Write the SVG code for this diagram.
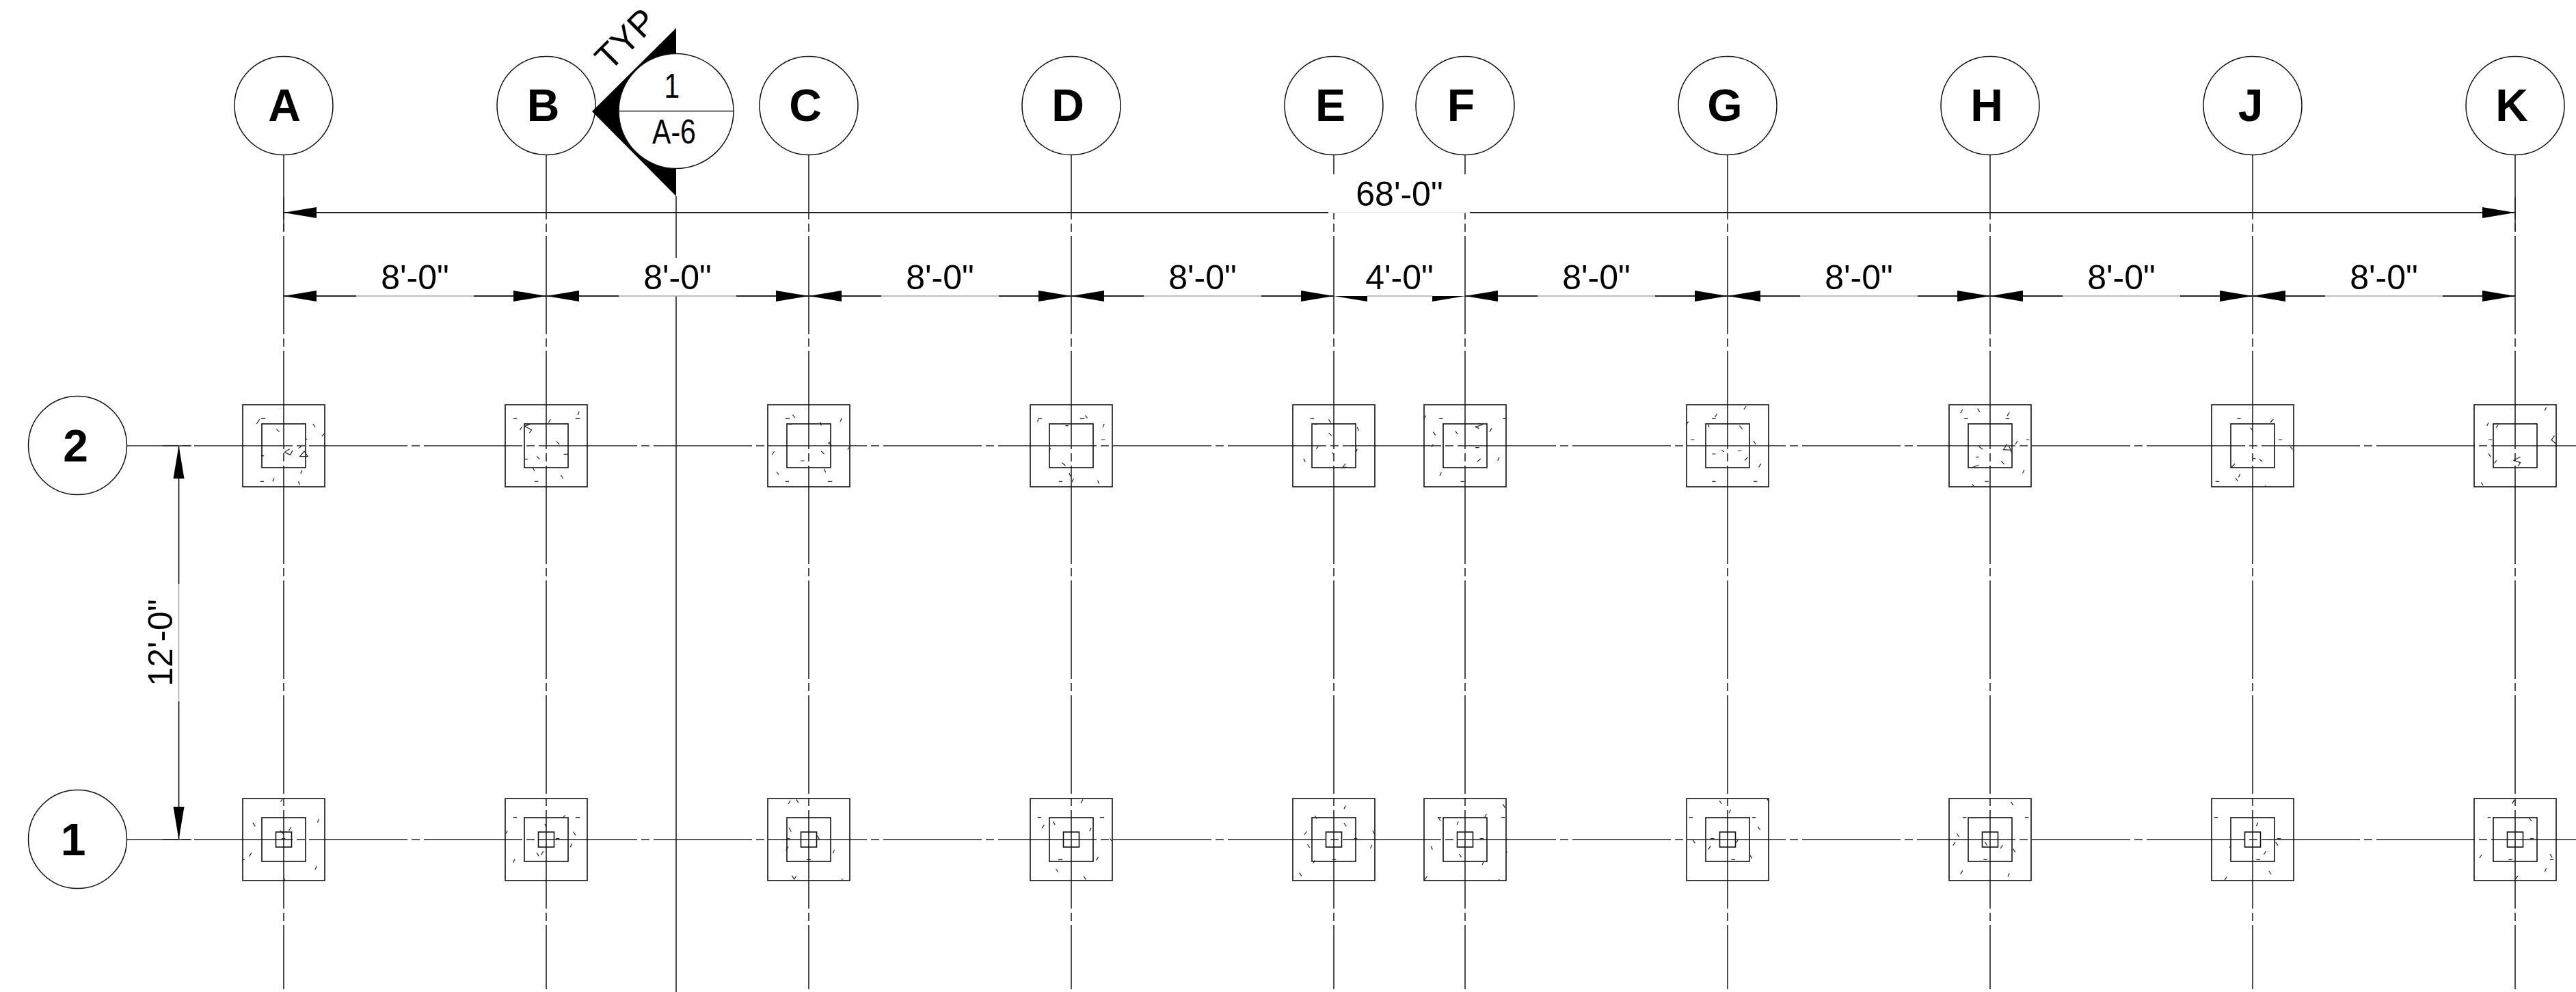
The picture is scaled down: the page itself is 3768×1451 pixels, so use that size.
<svg xmlns="http://www.w3.org/2000/svg" xmlns:xlink="http://www.w3.org/1999/xlink" width="3768" height="1451" viewBox="0 0 3768 1451">
<style>
text{font-family:"Liberation Sans",Arial,sans-serif;fill:#000}
.bub{font-size:66px;font-weight:700;text-anchor:middle}
.dim{font-size:50px;text-anchor:middle}
.c{fill:#fff;stroke:#111;stroke-width:1.5}
.grid{fill:none;stroke:#222;stroke-width:1.6;stroke-dasharray:144 6 12 6}
.solid{fill:none;stroke:#222;stroke-width:1.6}
.d{fill:none;stroke:#222;stroke-width:1.8}
.m{fill:none;stroke:#aaa;stroke-width:1.5}
.r{fill:none;stroke:#111;stroke-width:1.6}
.t{fill:none;stroke:#222;stroke-width:1.2;vector-effect:non-scaling-stroke}
</style>
<defs>
<marker id="ar" viewBox="0 -9 49 18" refX="48" refY="0" markerWidth="49" markerHeight="18" markerUnits="userSpaceOnUse" orient="auto-start-reverse"><path d="M0,-8L48,0L0,8z" fill="#000"/></marker>
<g id="f2"><rect class="r" x="-60" y="-60" width="120" height="120"/><rect class="r" x="-32" y="-32" width="64" height="64"/></g>
<g id="f1"><use xlink:href="#f2"/><rect class="r" x="-11.5" y="-11" width="23" height="22"/></g>
</defs>
<g id="gridlines">
<path class="grid" d="M116,652H3768M116,1228H3768"/>
<path class="grid" d="M415,177V1447M799,177V1447M1183,177V1447M1567,177V1447M2527,177V1447M2911,177V1447M3295,177V1447M3679,177V1447"/>
<path class="solid" d="M1951,177V255M2143,177V255"/>
<path class="grid" stroke-dashoffset="134" d="M1951,311V1447M2143,311V1447"/>
<path class="solid" d="M989,287V377M989,433V1451"/>
<path class="solid" d="M415,288V338M3679,288V338M238,652H280M238,1228H280"/>
</g>
<g id="footing-A2" transform="translate(415,652)"><use xlink:href="#f2"/><path class="t" transform="scale(1.0714,.3333)" d="M-31,-119h6M-37,-96l4,-20M40,-96l3,15M-10,-73l4,12M52,-41l3,-12M8,14l-7,14l8,12l3,-20M22,47h11l-5,-23zM24,3l-4,8M-31,44h4M25,107l-2,15M-32,157h5M-13,142l-2,15M20,157l2,15M30,-29h2"/></g>
<g id="footing-B2" transform="translate(799,652)"><use xlink:href="#f2"/><path class="t" transform="scale(1.0714,.3333)" d="M-45,-119h5M40,-119h6M45,-151l-2,16M6,-117l-3,16M-30,-86l10,16l-3,14M-30,-86l8,-8M-36,-69l3,-14M14,-19l4,13M24,37h6M-30,59h5M-13,46l4,13M-18,99l2,12M20,129l3,15M-16,157h5"/></g>
<g id="footing-C2" transform="translate(1183,652)"><use xlink:href="#f2"/><path class="t" transform="scale(1.0714,.3333)" d="M-32,-119h6M-22,-136l3,13M45,-121l-2,15M16,-104l1,16M-28,-94h5M56,4l-3,13M30,-18l-3,6l4,8M-47,24l-3,15M17,24l4,12M-11,66h5M-44,114l3,13M21,102l2,15M-32,157h5M26,157h6"/></g>
<g id="footing-D2" transform="translate(1567,652)"><use xlink:href="#f2"/><path class="t" transform="scale(1.0714,.3333)" d="M-45,-119h5M-45,-119l-1,14M12,-119h6M19,-133l3,12M45,-96l-2,15M-8,-88h4M41,-27h5M-28,11l-2,8M-13,74l5,13M-3,119l2,15M3,144l-2,15M-17,157h5M36,152l2,15"/></g>
<g id="footing-E2" transform="translate(1951,652)"><use xlink:href="#f2"/><path class="t" transform="scale(1.0714,.3333)" d="M-32,-119h5M-7,-116l3,15M32,-81l2,15M-27,-94h5M-7,-56l4,12M-21,2l-3,12M32,14l-2,15M-2,29l2,10M-41,56l2,15M16,79l-4,15l6,0"/></g>
<g id="footing-F2" transform="translate(2143,652)"><use xlink:href="#f2"/><path class="t" transform="scale(1.084,.3333)" d="M-53,-133l-2,14M-35,-119h5M51,-119h5M24,-93l-10,10l5,7M36,-77l-3,16M-13,-64l3,13M-43,-61l3,15M-43,-6l-2,12M14,8h5M21,57l-5,14M46,51l-2,15M-32,117l-2,15M-6,157h5"/></g>
<g id="footing-G2" transform="translate(2527,652)"><use xlink:href="#f2"/><path class="t" transform="scale(1.084,.3333)" d="M25,-174l-3,15M-14,-141l-3,15M-21,-119h5M-53,-106l-3,15M-26,-93l1,12M16,-88l4,15M-50,-27h5M35,-21l3,15M-21,36h5M-8,19l3,8M14,21h5M27,51l-4,14M45,79l-3,15M-21,157h5M35,157h5"/></g>
<g id="footing-H2" transform="translate(2911,652)"><use xlink:href="#f2"/><path class="t" transform="scale(1.084,.3333)" d="M-37,-159l-3,15M-17,-163l3,15M26,-146l-3,15M-35,-119h5M21,-119h5M49,-27h4M37,-21l-3,15M-15,4l5,12M23,-8l-5,25l10,2l-3,-20M28,19l1,13M-19,50h4M15,67l4,14M-15,84l-10,12M46,106l-2,15M-7,157h5M-24,169l3,12"/></g>
<g id="footing-J2" transform="translate(3295,652)"><use xlink:href="#f2"/><path class="t" transform="scale(1.084,.3333)" d="M28,-117l-4,15M-3,-79l3,12M-21,-119h5M35,-27h5M51,4l3,13M0,56h4M9,59l4,10M-24,79l-5,17M-17,124l-2,15M-23,141l3,15M-50,157h5M17,175l1,6"/></g>
<g id="footing-K2" transform="translate(3679,652)"><use xlink:href="#f2"/><path class="t" transform="scale(1.084,.3333)" d="M42,-169l-2,15M-36,-101l-2,13M-23,-91l-3,12M53,-44l-4,18l7,20M-36,-27h5M-36,34l3,15M-25,64l-3,13M7,49l-9,15l9,10l-3,16M-46,161l3,13"/></g>
<g id="footing-A1" transform="translate(415,1228)"><use xlink:href="#f1"/><path class="t" transform="scale(1.0714,.3333)" d="M-2,-179l-2,13M-42,-74l3,16M48,-89l-2,15M10,-54l-3,15M-5,-39l5,15M-3,-4h5M-44,58l-3,16M-56,88h3M45,116l-2,15M0,168l2,13"/></g>
<g id="footing-B1" transform="translate(799,1228)"><use xlink:href="#f1"/><path class="t" transform="scale(1.0714,.3333)" d="M-45,-97h5M40,-97h6M26,-107l-4,13M-2,-69l2,15M13,-4h5M37,-34l3,15M35,18l-2,16M-53,-39l-2,13M-4,51l-3,17M-13,58l3,15M-43,86l-2,15"/></g>
<g id="footing-C1" transform="translate(1183,1228)"><use xlink:href="#f1"/><path class="t" transform="scale(1.0714,.3333)" d="M-25,-171l-3,15M-17,-176l3,15M-27,-52l3,18M-30,-4h4M11,-19l4,20M-28,31l-3,17M35,46l-2,15M-3,88h6M-23,158l3,16l3,-14M46,172l-1,8"/></g>
<g id="footing-D1" transform="translate(1567,1228)"><use xlink:href="#f1"/><path class="t" transform="scale(1.0714,.3333)" d="M16,-176l-3,15M-46,-97h5M39,-97h6M-25,-79l3,15M-37,-64l-3,15M27,-52l-2,15M53,-4l2,10M37,76l-3,15M-18,88h6M-21,129l3,14M17,161l3,15"/></g>
<g id="footing-E1" transform="translate(1951,1228)"><use xlink:href="#f1"/><path class="t" transform="scale(1.0714,.3333)" d="M16,-149l-2,15M-26,-104l3,13M14,-72l3,15M-37,-36l-3,15M53,-39l3,17M28,-4h4M-36,21l3,15M52,24l-2,15M-2,88h5M-26,91l-2,13M-47,146l3,15"/></g>
<g id="footing-F1" transform="translate(2143,1228)"><use xlink:href="#f1"/><path class="t" transform="scale(1.084,.3333)" d="M51,-156l3,17M-37,-97h5M49,-97h5M29,-111l-3,15M-36,-96l3,14M-9,-79l-2,15M20,-4h5M-46,29l2,15M-8,63l3,15M25,99l-2,12M56,51v8M-51,161l-4,17M46,174l-1,6"/></g>
<g id="footing-G1" transform="translate(2527,1228)"><use xlink:href="#f1"/><path class="t" transform="scale(1.084,.3333)" d="M-11,-171l3,15M53,-179l3,13M4,-131l-2,15M-52,-97h5M33,-97h5M41,-56l3,14M-23,-4h5M-47,1l3,15M-23,28l-3,16M14,1l-2,13M30,68l3,15M5,88h5"/></g>
<g id="footing-H1" transform="translate(2911,1228)"><use xlink:href="#f1"/><path class="t" transform="scale(1.084,.3333)" d="M28,-166l3,15M-37,-97h5M47,-97h5M-45,-27l3,15M-7,11l3,15M-47,11l-3,15M17,24l-3,15M31,41l3,15M-9,88h5M-37,136l-3,15M26,148l-2,15"/></g>
<g id="footing-J1" transform="translate(3295,1228)"><use xlink:href="#f1"/><path class="t" transform="scale(1.084,.3333)" d="M7,-74l-2,15M-52,-97h5M33,-4h5M31,11l3,15M-29,24l-2,12M18,51l-3,15M5,88h5M22,138l3,15M-35,164l-3,15"/></g>
<g id="footing-K1" transform="translate(3679,1228)"><use xlink:href="#f1"/><path class="t" transform="scale(1.084,.3333)" d="M-1,-174l-3,17M-37,-97h4M19,-94l3,13M20,-4h5M-45,66l-3,15M47,64l3,15M-9,88h5M47,88h5M42,126l-2,15M4,159l-4,15"/></g>
<g id="connectors">
<path class="d" marker-start="url(#ar)" d="M415,311H1943"/>
<path class="d" marker-end="url(#ar)" d="M2150,311H3679"/>
<path fill="none" stroke="#e8e8e8" stroke-width="1.5" d="M1943,311H2150"/>
<path class="m" d="M521,433H693M905,433H1077M1289,433H1461M1673,433H1845M2000,433H2094M2249,433H2421M2633,433H2805M3017,433H3189M3401,433H3573M261.500,854V1026"/>
<path class="d" marker-start="url(#ar)" d="M415,433H521"/><path class="d" marker-end="url(#ar)" d="M693,433H799"/>
<path class="d" marker-start="url(#ar)" d="M799,433H905"/><path class="d" marker-end="url(#ar)" d="M1077,433H1183"/>
<path class="d" marker-start="url(#ar)" d="M1183,433H1289"/><path class="d" marker-end="url(#ar)" d="M1461,433H1567"/>
<path class="d" marker-start="url(#ar)" d="M1567,433H1673"/><path class="d" marker-end="url(#ar)" d="M1845,433H1951"/>
<path fill="#000" d="M1951,433H2000V441zM2143,433H2095V441z"/>
<path class="d" marker-start="url(#ar)" d="M2143,433H2249"/><path class="d" marker-end="url(#ar)" d="M2421,433H2527"/>
<path class="d" marker-start="url(#ar)" d="M2527,433H2633"/><path class="d" marker-end="url(#ar)" d="M2805,433H2911"/>
<path class="d" marker-start="url(#ar)" d="M2911,433H3017"/><path class="d" marker-end="url(#ar)" d="M3189,433H3295"/>
<path class="d" marker-start="url(#ar)" d="M3295,433H3401"/><path class="d" marker-end="url(#ar)" d="M3573,433H3679"/>
<path class="d" marker-start="url(#ar)" d="M261.500,652V854"/><path class="d" marker-end="url(#ar)" d="M261.500,1026V1228"/>
</g>
<g id="dim-labels">
<text class="dim" x="2047" y="301">68'-0"</text>
<text class="dim" x="607" y="423">8'-0"</text>
<text class="dim" x="991" y="423">8'-0"</text>
<text class="dim" x="1375" y="423">8'-0"</text>
<text class="dim" x="1759" y="423">8'-0"</text>
<text class="dim" x="2047" y="423">4'-0"</text>
<text class="dim" x="2335" y="423">8'-0"</text>
<text class="dim" x="2719" y="423">8'-0"</text>
<text class="dim" x="3103" y="423">8'-0"</text>
<text class="dim" x="3487" y="423">8'-0"</text>
<text class="dim" transform="translate(252,940) rotate(-90)">12'-0"</text>
</g>
<g id="bubble-A"><circle class="c" cx="415" cy="154.500" r="72"/><text class="bub" x="416" y="177">A</text></g>
<g id="bubble-B"><circle class="c" cx="799" cy="154.500" r="72"/><text class="bub" x="794.500" y="177">B</text></g>
<g id="bubble-C"><circle class="c" cx="1183" cy="154.500" r="72"/><text class="bub" x="1178" y="177">C</text></g>
<g id="bubble-D"><circle class="c" cx="1567" cy="154.500" r="72"/><text class="bub" x="1562" y="177">D</text></g>
<g id="bubble-E"><circle class="c" cx="1951" cy="154.500" r="72"/><text class="bub" x="1946" y="177">E</text></g>
<g id="bubble-F"><circle class="c" cx="2143" cy="154.500" r="72"/><text class="bub" x="2137" y="177">F</text></g>
<g id="bubble-G"><circle class="c" cx="2527" cy="154.500" r="72"/><text class="bub" x="2523" y="177">G</text></g>
<g id="bubble-H"><circle class="c" cx="2911" cy="154.500" r="72"/><text class="bub" x="2906" y="177">H</text></g>
<g id="bubble-J"><circle class="c" cx="3295" cy="154.500" r="72"/><text class="bub" x="3292" y="177">J</text></g>
<g id="bubble-K"><circle class="c" cx="3679" cy="154.500" r="72"/><text class="bub" x="3674" y="177">K</text></g>
<g id="bubble-2"><circle class="c" cx="113.500" cy="651.500" r="72"/><text class="bub" x="110.500" y="675">2</text></g>
<g id="bubble-1"><circle class="c" cx="113.500" cy="1227.500" r="72"/><text class="bub" x="107" y="1251">1</text></g>
<g id="section-marker">
<path fill="#000" d="M989,41L866,163L989,287z"/>
<circle class="c" cx="989" cy="162.500" r="84"/>
<path class="solid" d="M905,162.500H1073"/>
<text class="dim" transform="translate(983,143) scale(.82,1)">1</text>
<text class="dim" transform="translate(986,210) scale(.82,1)">A-6</text>
<text style="font-size:52px" transform="translate(892,105.500) rotate(-45)">TYP</text>
</g>
</svg>
